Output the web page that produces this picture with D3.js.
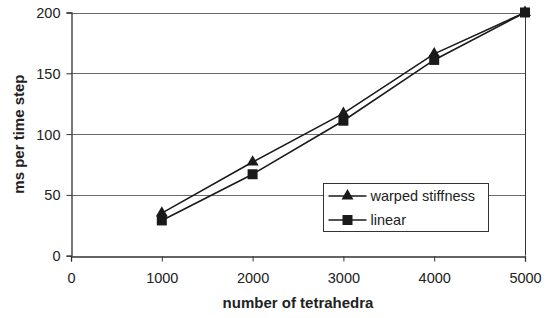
<!DOCTYPE html>
<html>
<head>
<meta charset="utf-8">
<script src="https://cdn.jsdelivr.net/npm/d3@7"></script>
<style>
  body { margin: 0; background: #fff; }
  text { font-family: "Liberation Sans", Arial, sans-serif; fill: #222; }
</style>
</head>
<body>
<div id="chart"></div>
<script>
// Data
const tetrahedra = [1000, 2000, 3000, 4000, 5000];
const warpedStiffness = [35, 77, 117, 166, 200];
const linear = [29, 67, 111, 161, 200];
const xTicks = [0, 1000, 2000, 3000, 4000, 5000];
const yTicks = [0, 50, 100, 150, 200];

const width = 550;
const height = 318;
const margin = { top: 12.5, right: 25, bottom: 62.3, left: 71 };

const svg = d3.select("#chart")
  .append("svg")
  .attr("width", width)
  .attr("height", height);

// Scales
const x = d3.scaleLinear()
  .domain([0, 5000])
  .range([margin.left, width - margin.right]);

const y = d3.scaleLinear()
  .domain([0, 200])
  .range([height - margin.bottom, margin.top]);

// Gridlines
svg.append("g")
  .selectAll("line")
  .data(yTicks.filter(d => d > 0))
  .enter()
  .append("line")
  .attr("x1", x(0))
  .attr("x2", x(5000))
  .attr("y1", d => Math.round(y(d)) + 0.5)
  .attr("y2", d => Math.round(y(d)) + 0.5)
  .attr("stroke", "#6a6a6a")
  .attr("stroke-width", 1);

// Right border of plot area
svg.append("line")
  .attr("x1", Math.round(x(5000)) + 0.5)
  .attr("x2", Math.round(x(5000)) + 0.5)
  .attr("y1", y(200))
  .attr("y2", y(0))
  .attr("stroke", "#333")
  .attr("stroke-width", 1);

// X axis
const xAxis = svg.append("g")
  .attr("transform", `translate(0,${Math.round(y(0)) + 0.5})`)
  .call(d3.axisBottom(x).tickValues(xTicks).tickSize(5).tickPadding(11).tickFormat(d3.format("d")));

// Y axis
const yAxis = svg.append("g")
  .attr("transform", `translate(${Math.round(x(0)) + 0.5},0)`)
  .call(d3.axisLeft(y).tickValues(yTicks).tickSize(5).tickPadding(6));

[xAxis, yAxis].forEach(g => {
  g.select(".domain").attr("stroke", "#333").attr("stroke-width", 1.3);
  g.selectAll(".tick line").attr("stroke", "#333");
  g.selectAll(".tick text")
    .attr("font-size", "14.5px")
    .attr("font-family", "Liberation Sans, Arial, sans-serif")
    .attr("fill", "#222");
});
yAxis.selectAll(".tick text").attr("dy", "0.35em");

// Lines
const line = d3.line()
  .x((d, i) => x(tetrahedra[i]))
  .y(d => y(d));

svg.append("path")
  .datum(linear)
  .attr("fill", "none")
  .attr("stroke", "#1a1a1a")
  .attr("stroke-width", 1.6)
  .attr("d", line);

svg.append("path")
  .datum(warpedStiffness)
  .attr("fill", "none")
  .attr("stroke", "#1a1a1a")
  .attr("stroke-width", 1.6)
  .attr("d", line);

// Markers
const triangle = d3.symbol().type(d3.symbolTriangle).size(62);
const square = d3.symbol().type(d3.symbolSquare).size(100);

svg.selectAll(".tri")
  .data(warpedStiffness)
  .enter()
  .append("path")
  .attr("class", "tri")
  .attr("d", triangle)
  .attr("transform", (d, i) => `translate(${x(tetrahedra[i])},${y(d)})`)
  .attr("fill", "#1a1a1a");

svg.selectAll(".sq")
  .data(linear)
  .enter()
  .append("path")
  .attr("class", "sq")
  .attr("d", square)
  .attr("transform", (d, i) => `translate(${x(tetrahedra[i])},${y(d)})`)
  .attr("fill", "#1a1a1a");

// Axis titles
svg.append("text")
  .attr("x", (x(0) + x(5000)) / 2)
  .attr("y", 308)
  .attr("text-anchor", "middle")
  .attr("font-size", "15px")
  .attr("font-weight", "bold")
  .text("number of tetrahedra");

svg.append("text")
  .attr("transform", `translate(24,${(y(0) + y(200)) / 2}) rotate(-90)`)
  .attr("text-anchor", "middle")
  .attr("font-size", "15px")
  .attr("font-weight", "bold")
  .text("ms per time step");

// Legend
const legend = svg.append("g").attr("transform", "translate(323.5,183.5)");

legend.append("rect")
  .attr("width", 165)
  .attr("height", 48)
  .attr("fill", "#fff")
  .attr("stroke", "#333")
  .attr("stroke-width", 1);

const legendItems = [
  { label: "warped stiffness", symbol: triangle },
  { label: "linear", symbol: square }
];

legendItems.forEach((item, i) => {
  const row = legend.append("g").attr("transform", `translate(0,${12.5 + i * 24})`);
  row.append("line")
    .attr("x1", 5)
    .attr("x2", 43)
    .attr("stroke", "#1a1a1a")
    .attr("stroke-width", 1.6);
  row.append("path")
    .attr("d", item.symbol)
    .attr("transform", "translate(24,0)")
    .attr("fill", "#1a1a1a");
  row.append("text")
    .attr("x", 47)
    .attr("dy", "0.35em")
    .attr("font-size", "14.5px")
    .text(item.label);
});
</script>
</body>
</html>
